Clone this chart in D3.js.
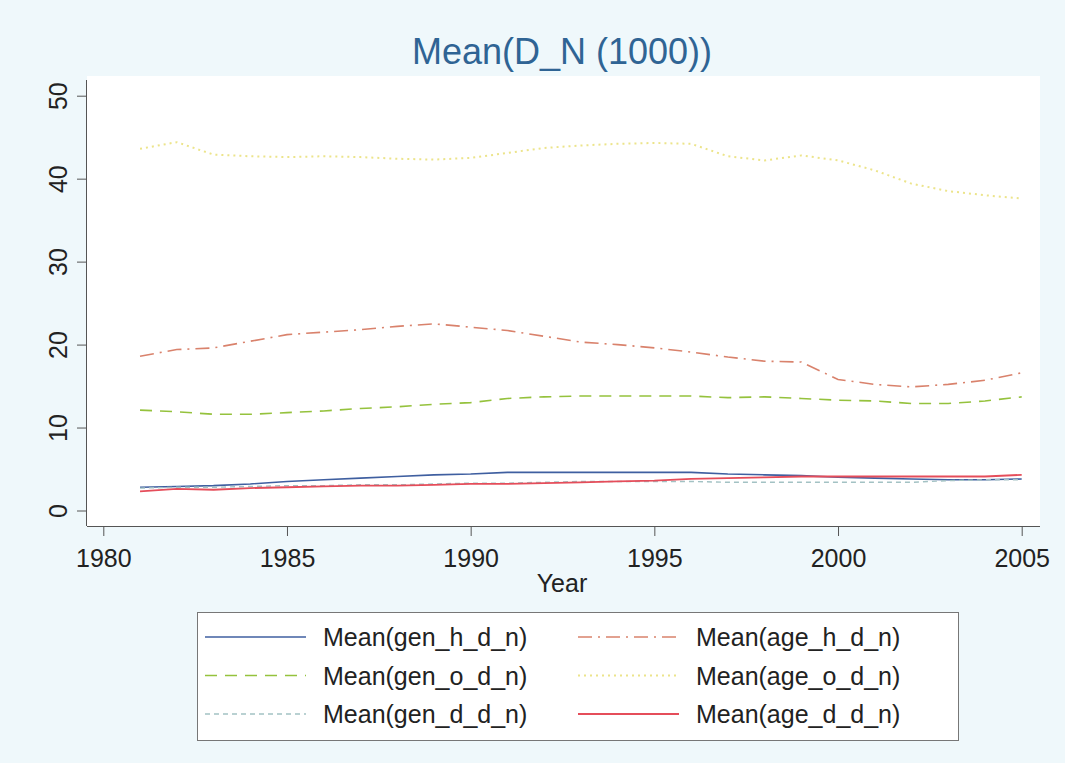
<!DOCTYPE html>
<html>
<head>
<meta charset="utf-8">
<script src="https://cdn.jsdelivr.net/npm/d3@7"></script>
<style>
  body { margin: 0; background: #eff8fb; }
  svg { display: block; font-family: "Liberation Sans", Arial, sans-serif; }
</style>
</head>
<body>
<svg id="chart" width="1065" height="763"></svg>
<script>
// data
const years = d3.range(1981, 2006);
const genH = [2.8, 2.9, 3.0, 3.2, 3.5, 3.7, 3.9, 4.1, 4.3, 4.4, 4.6, 4.6, 4.6, 4.6, 4.6, 4.6, 4.4, 4.3, 4.2, 4.0, 3.9, 3.8, 3.7, 3.7, 3.8];
const ageH = [18.6, 19.4, 19.6, 20.4, 21.2, 21.5, 21.8, 22.2, 22.5, 22.1, 21.7, 21.0, 20.3, 20.0, 19.6, 19.1, 18.5, 18.0, 17.9, 15.8, 15.2, 14.9, 15.2, 15.7, 16.6];
const genO = [12.1, 11.9, 11.6, 11.6, 11.8, 12.0, 12.3, 12.5, 12.8, 13.0, 13.5, 13.7, 13.8, 13.8, 13.8, 13.8, 13.6, 13.7, 13.5, 13.3, 13.2, 12.9, 12.9, 13.2, 13.7];
const ageO = [43.6, 44.4, 42.9, 42.7, 42.6, 42.7, 42.6, 42.4, 42.3, 42.5, 43.1, 43.7, 44.0, 44.2, 44.3, 44.2, 42.7, 42.2, 42.8, 42.2, 41.0, 39.4, 38.5, 38.0, 37.6];
const genD = [2.7, 2.8, 2.8, 2.9, 3.0, 3.0, 3.1, 3.1, 3.2, 3.3, 3.3, 3.4, 3.5, 3.5, 3.5, 3.5, 3.4, 3.4, 3.4, 3.4, 3.4, 3.4, 3.6, 3.7, 3.7];
const ageD = [2.3, 2.6, 2.5, 2.7, 2.8, 2.9, 3.0, 3.0, 3.1, 3.2, 3.2, 3.3, 3.4, 3.5, 3.6, 3.8, 3.9, 4.0, 4.1, 4.1, 4.1, 4.1, 4.1, 4.1, 4.3];

const xTicks = [1980, 1985, 1990, 1995, 2000, 2005];
const yTicks = [0, 10, 20, 30, 40, 50];

const series = [
  {name: "Mean(gen_h_d_n)", values: genH, color: "#3f5fa0", dash: null, width: 1.6},
  {name: "Mean(age_h_d_n)", values: ageH, color: "#d9826c", dash: "14,6,2,6", width: 1.6},
  {name: "Mean(gen_o_d_n)", values: genO, color: "#95c23d", dash: "12,8", width: 1.6},
  {name: "Mean(age_o_d_n)", values: ageO, color: "#ece48a", dash: "2,4", width: 2},
  {name: "Mean(gen_d_d_n)", values: genD, color: "#a3c2c4", dash: "5,4", width: 1.4},
  {name: "Mean(age_d_d_n)", values: ageD, color: "#e54d5a", dash: null, width: 1.8}
];

const svg = d3.select("#chart");

const x = d3.scaleLinear().domain([1980, 2005]).range([103.3, 1021.7]);
const y = d3.scaleLinear().domain([0, 50]).range([510.5, 95.7]);

// plot region
const plotLeft = 87, plotRight = 1040, plotTop = 76, plotBottom = 526;
svg.append("rect")
    .attr("x", plotLeft).attr("y", plotTop)
    .attr("width", plotRight - plotLeft).attr("height", plotBottom - plotTop)
    .attr("fill", "#ffffff");

// title
svg.append("text")
    .attr("x", 562)
    .attr("y", 64)
    .attr("text-anchor", "middle")
    .attr("font-size", 36)
    .attr("fill", "#2f6494")
    .text("Mean(D_N (1000))");

// axes
const xAxis = svg.append("g")
    .attr("transform", "translate(0," + plotBottom + ")")
    .call(d3.axisBottom(x).tickValues(xTicks).tickFormat(d3.format("d")).tickSize(10).tickSizeOuter(0));
xAxis.select(".domain").attr("d", "M" + plotLeft + ",0.5H" + plotRight).attr("stroke", "#555");
xAxis.selectAll(".tick line").attr("stroke", "#555");
xAxis.selectAll(".tick text")
    .attr("font-size", 25)
    .attr("fill", "#222")
    .attr("dy", 0)
    .attr("y", 41);

const yAxis = svg.append("g")
    .attr("transform", "translate(" + plotLeft + ",0)")
    .call(d3.axisLeft(y).tickValues(yTicks).tickSize(10).tickSizeOuter(0));
yAxis.select(".domain").attr("d", "M-0.5," + 80 + "V" + plotBottom).attr("stroke", "#555");
yAxis.selectAll(".tick line").attr("stroke", "#555");
yAxis.selectAll(".tick text")
    .attr("font-size", 25)
    .attr("fill", "#222")
    .attr("text-anchor", "middle")
    .attr("x", 0).attr("dy", 0)
    .attr("transform", "translate(-20,0) rotate(-90)");

svg.append("text")
    .attr("x", 562)
    .attr("y", 592)
    .attr("text-anchor", "middle")
    .attr("font-size", 25)
    .attr("fill", "#222")
    .text("Year");

// lines
const line = d3.line()
    .x(function(d, i) { return x(years[i]); })
    .y(function(d) { return y(d); });

svg.append("g").selectAll("path")
    .data(series)
    .enter().append("path")
      .attr("d", function(d) { return line(d.values); })
      .attr("fill", "none")
      .attr("stroke", function(d) { return d.color; })
      .attr("stroke-width", function(d) { return d.width; })
      .attr("stroke-dasharray", function(d) { return d.dash; });

// legend
const legend = svg.append("g");
legend.append("rect")
    .attr("x", 197.5).attr("y", 612.5)
    .attr("width", 761).attr("height", 128)
    .attr("fill", "#ffffff")
    .attr("stroke", "#777");

const item = legend.selectAll(".item")
    .data(series)
    .enter().append("g")
      .attr("class", "item")
      .attr("transform", function(d, i) {
        const col = i % 2, row = Math.floor(i / 2);
        return "translate(" + (col === 0 ? 205 : 578) + "," + (637 + row * 38.5) + ")";
      });

item.append("line")
    .attr("x1", 0).attr("x2", 101)
    .attr("y1", 0).attr("y2", 0)
    .attr("stroke", function(d) { return d.color; })
    .attr("stroke-width", function(d) { return d.width; })
    .attr("stroke-dasharray", function(d) { return d.dash; });

item.append("text")
    .attr("x", 118)
    .attr("y", 9)
    .attr("font-size", 25)
    .attr("fill", "#222")
    .text(function(d) { return d.name; });
</script>
</body>
</html>
